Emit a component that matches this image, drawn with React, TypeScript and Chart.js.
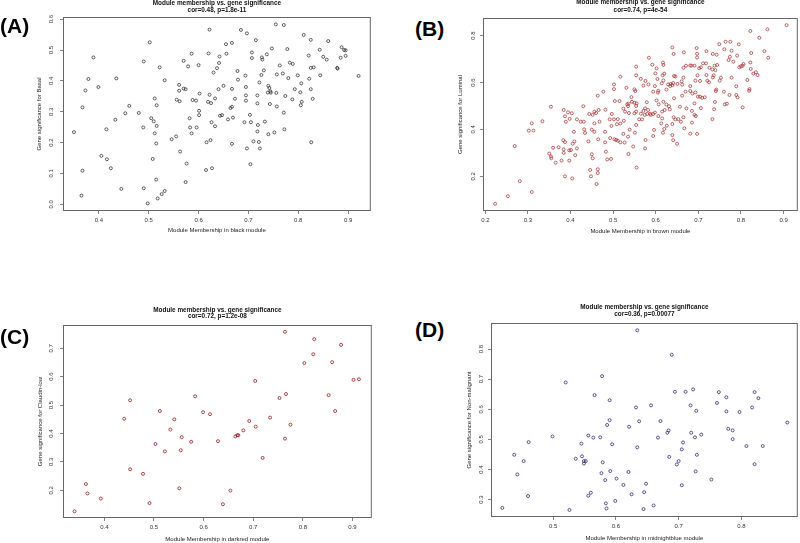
import React, { useEffect, useRef } from "react";
import { Chart, registerables } from "chart.js";
Chart.register(...registerables);

const FONT = "'Liberation Sans', Arial, Helvetica, sans-serif";
const MAIN_TITLE = "Module membership vs. gene significance";

// ---- Panel A (black module / Basal) ----
const aMM = [0.622,0.502,0.389,0.490,0.522,0.532,0.379,0.435,0.373,0.399,0.367,0.461,0.453,0.480,0.433,0.415,0.350,0.489,0.512,0.516,0.505,0.510,0.516,0.512,0.515,0.405,0.416,0.424,0.367,0.445,0.365,0.490,0.498,0.515,0.518,0.526,0.532,0.508,0.546,0.555,0.563,0.576,0.574,0.556,0.562,0.561,0.561,0.570,0.574,0.570,0.579,0.586,0.600,0.588,0.595,0.582,0.583,0.586,0.596,0.601,0.601,0.602,0.616,0.624,0.615,0.627,0.620,0.630,0.622,0.619,0.625,0.626,0.633,0.633,
  0.685,0.697,0.755,0.771,0.715,0.655,0.667,0.656,0.642,0.641,0.637,0.707,0.707,0.727,0.728,0.737,0.747,0.778,0.811,0.825,0.843,0.860,0.887,0.892,0.895,0.885,0.895,0.850,0.857,0.821,0.825,0.831,0.878,0.879,0.921,0.844,0.822,0.825,0.829,0.826,0.783,0.789,0.763,0.757,0.769,0.780,0.799,0.806,0.804,0.807,0.805,0.793,0.788,0.774,0.756,0.757,0.771,0.772,0.752,0.740,0.733,0.743,0.740,0.742,0.744,0.739,0.745,0.731,0.726,0.722,0.718,0.718,0.703,0.705,0.719,0.718,0.710,0.721,0.723,0.697,0.704,0.692,0.694,0.695,0.695,0.695,0.678,0.679,0.667,0.650,0.640,0.673,0.664,0.667,0.659,0.669,0.643,0.647,0.667];
const aGS = [0.566,0.525,0.476,0.463,0.444,0.402,0.406,0.408,0.369,0.380,0.314,0.319,0.295,0.296,0.274,0.243,0.234,0.249,0.343,0.321,0.279,0.269,0.254,0.230,0.197,0.157,0.146,0.117,0.109,0.050,0.028,0.052,0.003,0.080,0.019,0.033,0.043,0.147,0.211,0.220,0.171,0.132,0.072,0.339,0.334,0.387,0.368,0.375,0.373,0.465,0.447,0.488,0.451,0.338,0.336,0.279,0.249,0.230,0.249,0.303,0.289,0.359,0.201,0.208,0.111,0.117,0.489,0.427,0.355,0.332,0.328,0.266,0.253,0.343,
  0.565,0.554,0.583,0.581,0.532,0.519,0.523,0.488,0.479,0.458,0.441,0.492,0.474,0.476,0.469,0.486,0.505,0.503,0.549,0.533,0.501,0.529,0.509,0.500,0.499,0.475,0.481,0.478,0.469,0.482,0.442,0.444,0.442,0.440,0.416,0.418,0.407,0.373,0.342,0.201,0.459,0.455,0.450,0.421,0.424,0.409,0.418,0.392,0.363,0.332,0.321,0.373,0.340,0.351,0.361,0.317,0.297,0.243,0.233,0.227,0.268,0.325,0.384,0.377,0.366,0.362,0.362,0.434,0.419,0.395,0.353,0.327,0.290,0.266,0.257,0.236,0.204,0.202,0.181,0.181,0.130,0.266,0.417,0.380,0.353,0.336,0.432,0.404,0.374,0.384,0.373,0.342,0.312,0.316,0.275,0.281,0.287,0.289,0.196];

// ---- Panel B (brown module / Luminal) ----
const bMM = [0.223,0.253,0.281,0.309,0.269,0.302,0.313,0.309,0.334,0.354,0.350,0.354,0.355,0.359,0.365,0.372,0.379,0.383,0.387,0.384,0.384,0.397,0.387,0.404,0.397,0.401,0.405,0.409,0.415,0.411,0.408,0.384,0.387,0.389,0.394,0.398,0.403,0.415,0.424,0.431,0.430,0.432,0.434,
  0.639,0.642,0.666,0.584,0.592,0.617,0.618,0.554,0.602,0.517,0.502,0.502,0.531,0.550,0.552,0.554,0.565,0.571,0.576,0.583,0.594,0.598,0.599,0.604,0.605,0.606,0.614,0.616,0.620,0.618,0.625,0.629,0.634,0.635,0.639,0.641,0.643,0.646,0.651,0.661,0.662,0.665,0.665,0.671,0.681,0.670,0.662,
  0.464,0.477,0.466,0.456,0.460,0.444,0.452,0.468,0.456,0.456,0.450,0.442,0.465,0.481,0.496,0.504,0.515,0.482,0.497,0.492,0.502,0.511,0.509,0.517,0.524,0.528,0.525,0.533,0.536,0.535,0.537,0.543,0.544,0.550,0.550,0.554,0.554,0.555,0.554,0.565,0.561,0.568,0.575,0.571,0.574,0.579,0.580,0.582,0.587,0.588,0.594,0.598,0.602,0.606,0.607,0.618,0.621,0.615,0.615,0.613,0.625,0.631,0.633,0.639,0.642,0.643,0.646,0.653,0.657,0.665,0.672,0.667,
  0.481,0.493,0.503,0.507,0.511,0.517,0.527,0.535,0.539,0.551,0.547,0.536,0.524,0.576,0.575,0.596,0.594,0.617,0.620,0.626,0.641,0.650,0.639,0.659,
  0.483,0.486,0.495,0.450,0.452,0.446,0.464,0.464,0.448,0.461,0.555,
  0.907,0.822,0.862,0.843,0.764,0.775,0.749,0.795,0.696,0.719,0.761,0.778,0.697,0.734,0.743,0.697,0.824,0.855,0.864,0.791,0.774,0.771,0.782,0.806,0.804,0.796,0.800,0.822,0.684,0.691,0.711,0.718,0.706,0.702,0.726,0.738,0.744,0.733,0.740,0.778,0.823,0.829,0.835,0.839,0.815,0.698,0.719,0.736,0.734,0.753,0.750,0.721,0.725,0.704,0.693,0.681,0.742,0.741,0.760,0.773,0.789,0.789,0.792,0.820,0.819,0.681,0.686,0.693,0.699,0.704,0.709,0.715,0.691,0.706,0.739,0.737,0.762,0.767,0.804,0.685,0.691,0.694,0.685,0.733,0.681,0.697];
const bGS = [0.083,0.115,0.179,0.133,0.329,0.395,0.395,0.426,0.435,0.497,0.297,0.285,0.277,0.322,0.258,0.324,0.267,0.354,0.346,0.315,0.300,0.267,0.200,0.191,0.311,0.312,0.339,0.349,0.319,0.290,0.390,0.483,0.456,0.433,0.473,0.445,0.469,0.443,0.433,0.433,0.499,0.400,0.385,
  0.750,0.722,0.729,0.706,0.676,0.685,0.675,0.668,0.661,0.625,0.592,0.572,0.578,0.571,0.564,0.631,0.616,0.587,0.607,0.592,0.561,0.585,0.639,0.615,0.557,0.565,0.597,0.631,0.638,0.609,0.570,0.592,0.585,0.594,0.589,0.598,0.628,0.626,0.594,0.605,0.591,0.621,0.663,0.672,0.673,0.561,0.544,
  0.544,0.561,0.483,0.476,0.470,0.466,0.462,0.433,0.426,0.390,0.399,0.349,0.358,0.390,0.415,0.521,0.521,0.484,0.466,0.443,0.443,0.444,0.422,0.425,0.489,0.476,0.437,0.507,0.510,0.499,0.470,0.538,0.518,0.514,0.469,0.500,0.476,0.511,0.419,0.467,0.443,0.443,0.490,0.479,0.462,0.516,0.466,0.483,0.467,0.462,0.466,0.472,0.524,0.457,0.507,0.518,0.483,0.476,0.447,0.426,0.506,0.499,0.486,0.423,0.452,0.533,0.443,0.444,0.497,0.452,0.490,0.405,
  0.345,0.363,0.358,0.355,0.352,0.345,0.344,0.369,0.399,0.386,0.327,0.295,0.381,0.355,0.319,0.398,0.372,0.386,0.402,0.416,0.354,0.339,0.376,0.433,
  0.305,0.272,0.274,0.294,0.277,0.227,0.230,0.214,0.200,0.167,0.237,
  0.845,0.820,0.827,0.791,0.774,0.774,0.764,0.763,0.747,0.734,0.742,0.736,0.723,0.722,0.719,0.707,0.726,0.734,0.706,0.715,0.710,0.696,0.689,0.679,0.672,0.665,0.669,0.686,0.672,0.672,0.682,0.682,0.665,0.661,0.663,0.672,0.675,0.656,0.653,0.621,0.658,0.638,0.644,0.632,0.611,0.631,0.632,0.631,0.622,0.621,0.608,0.608,0.601,0.607,0.608,0.585,0.570,0.564,0.561,0.547,0.584,0.547,0.537,0.572,0.565,0.564,0.553,0.558,0.540,0.540,0.535,0.537,0.511,0.491,0.517,0.486,0.507,0.510,0.494,0.479,0.462,0.457,0.429,0.444,0.382,0.381];

// ---- Panel C (darkred module / Claudin-low) ----
const cMM = [0.340,0.363,0.366,0.393,0.440,0.452,0.452,0.478,0.491,0.503,0.512,0.522,0.533,0.541,0.551,0.554,0.556,0.575,0.583,0.599,0.613,0.629,0.639,0.654,0.664,0.668,0.670,0.680,0.692,0.704,0.705,0.719,0.734,0.753,0.764,0.766,0.764,0.775,0.803,0.821,0.823,0.852,0.859,0.865,0.877,0.902,0.913];
const cGS = [0.126,0.222,0.189,0.171,0.452,0.517,0.274,0.258,0.155,0.363,0.479,0.337,0.414,0.450,0.207,0.341,0.387,0.371,0.531,0.475,0.468,0.373,0.151,0.199,0.390,0.394,0.394,0.411,0.444,0.585,0.424,0.314,0.456,0.525,0.758,0.539,0.382,0.431,0.648,0.679,0.732,0.535,0.651,0.479,0.712,0.589,0.591];

// ---- Panel D (midnightblue module / Non-malignant) ----
const dMM = [0.419,0.438,0.443,0.453,0.460,0.461,0.499,0.520,0.526,0.536,0.545,0.546,0.549,0.552,0.549,0.556,0.560,0.556,0.564,0.566,0.575,0.578,0.579,0.577,0.583,0.584,0.585,0.586,0.590,0.590,0.591,0.594,0.599,0.601,0.612,0.620,0.621,0.625,0.632,0.634,0.634,0.637,0.644,0.645,0.648,0.656,0.660,0.667,0.671,0.682,0.684,0.685,0.689,0.694,0.697,0.700,0.705,0.707,0.705,0.711,0.719,0.720,0.723,0.726,0.728,0.729,0.727,0.736,0.752,0.761,0.764,0.776,0.776,0.779,0.786,0.786,0.797,0.808,0.817,0.821,0.821,0.827,0.834,0.873];
const dGS = [0.273,0.449,0.384,0.428,0.312,0.491,0.510,0.689,0.266,0.436,0.486,0.444,0.428,0.428,0.420,0.313,0.323,0.513,0.506,0.647,0.507,0.710,0.424,0.388,0.365,0.288,0.271,0.548,0.564,0.630,0.395,0.484,0.296,0.370,0.349,0.392,0.542,0.318,0.606,0.474,0.862,0.560,0.269,0.325,0.353,0.613,0.281,0.506,0.561,0.522,0.530,0.442,0.781,0.658,0.417,0.428,0.467,0.490,0.348,0.658,0.613,0.522,0.666,0.507,0.595,0.449,0.394,0.516,0.367,0.621,0.657,0.640,0.593,0.535,0.530,0.501,0.591,0.478,0.606,0.418,0.657,0.637,0.478,0.556];

const ML = 34;
const MT = 20;
const MB = 28;

type PanelProps = {
  box: { l: number; t: number; r: number; b: number };
  mr: number;
  xs: number[];
  ys: number[];
  color: string;
  xMin: number; xMax: number; xStep: number;
  yMin: number; yMax: number; yStep: number;
  xLabel: string; yLabel: string; sub: string;
  t1: number; t2: number; yt: number; yl: number; xl: number;
};

function Panel(p: PanelProps) {
  const ref = useRef<HTMLCanvasElement | null>(null);
  const w = p.box.r - p.box.l + ML + p.mr;
  const h = p.box.b - p.box.t + MT + MB;
  useEffect(() => {
    const canvas = ref.current;
    if (!canvas) return;
    const overlay = {
      id: "rOverlay",
      afterDraw(chart: any) {
        const { ctx, chartArea: ca, scales } = chart;
        ctx.save();
        ctx.strokeStyle = "#666";
        ctx.lineWidth = 1;
        ctx.strokeRect(ca.left + 0.5, ca.top + 0.5, ca.right - ca.left - 1, ca.bottom - ca.top - 1);
        const cx = (ca.left + ca.right) / 2;
        ctx.fillStyle = "#111";
        ctx.textAlign = "center";
        ctx.textBaseline = "middle";
        ctx.font = `bold 6.4px ${FONT}`;
        ctx.fillText(MAIN_TITLE, cx, ca.top + p.t1);
        ctx.fillText(p.sub, cx, ca.top + p.t2);
        ctx.font = `6px ${FONT}`;
        ctx.fillStyle = "#333";
        const ys = scales.y;
        ys.ticks.forEach((t: any) => {
          const py = ys.getPixelForValue(t.value);
          ctx.save();
          ctx.translate(ca.left - p.yt, py);
          ctx.rotate(-Math.PI / 2);
          ctx.fillText(Number(t.value).toFixed(1), 0, 0);
          ctx.restore();
        });
        ctx.fillStyle = "#222";
        ctx.save();
        ctx.translate(ca.left - p.yl, (ca.top + ca.bottom) / 2);
        ctx.rotate(-Math.PI / 2);
        ctx.fillText(p.yLabel, 0, 0);
        ctx.restore();
        ctx.fillText(p.xLabel, cx, ca.bottom + p.xl);
        ctx.restore();
      },
    };
    const gridOpts = {
      display: true,
      drawOnChartArea: false,
      drawTicks: true,
      tickLength: 3,
      color: "#666",
      lineWidth: 0.8,
    };
    const chart = new Chart(canvas, {
      type: "scatter",
      data: {
        datasets: [
          {
            data: p.xs.map((x, i) => ({ x, y: p.ys[i] })),
            pointStyle: "circle",
            pointRadius: 1.5,
            pointHoverRadius: 1.5,
            pointBorderWidth: 0.7,
            pointBorderColor: p.color,
            pointBackgroundColor: "rgba(0,0,0,0)",
            borderColor: p.color,
            backgroundColor: "rgba(0,0,0,0)",
          } as any,
        ],
      },
      options: {
        animation: false,
        responsive: false,
        devicePixelRatio: 1,
        events: [],
        layout: { padding: { left: 0, top: MT, right: p.mr, bottom: 0 } },
        plugins: {
          legend: { display: false },
          tooltip: { enabled: false },
          title: { display: false },
        },
        scales: {
          x: {
            type: "linear",
            position: "bottom",
            min: p.xMin,
            max: p.xMax,
            afterFit: (s: any) => { s.height = MB; },
            ticks: {
              stepSize: p.xStep,
              includeBounds: false,
              autoSkip: false,
              maxRotation: 0,
              padding: 2.4,
              color: "#333",
              font: { family: FONT, size: 6 },
              callback: (v: any) => Number(v).toFixed(1),
            },
            grid: gridOpts,
            border: { display: false },
          },
          y: {
            type: "linear",
            position: "left",
            min: p.yMin,
            max: p.yMax,
            afterFit: (s: any) => { s.width = ML; },
            ticks: {
              stepSize: p.yStep,
              includeBounds: false,
              display: false,
            },
            grid: gridOpts,
            border: { display: false },
          },
        },
      } as any,
      plugins: [overlay],
    });
    return () => chart.destroy();
  }, []);
  return (
    <canvas
      ref={ref}
      width={w}
      height={h}
      style={{ position: "absolute", left: p.box.l - ML, top: p.box.t - MT, width: w, height: h }}
    />
  );
}

const labelStyle = (left: number, top: number): React.CSSProperties => ({
  position: "absolute",
  left,
  top,
  fontFamily: FONT,
  fontWeight: "bold",
  fontSize: 21,
  lineHeight: "21px",
  color: "#000",
});

export default function App() {
  return (
    <div style={{ position: "absolute", left: 0, top: 0, width: 800, height: 543, background: "#fff", overflow: "hidden" }}>
      <Panel
        box={{ l: 63, t: 17, r: 371, b: 211 }} mr={2}
        xs={aMM} ys={aGS} color="#222222"
        xMin={0.328} xMax={0.9455} xStep={0.1}
        yMin={-0.0217} yMax={0.607} yStep={0.1}
        xLabel="Module Membership in black module" yLabel="Gene significance for Basal"
        sub="cor=0.48, p=1.8e-11" t1={-14} t2={-6.8} yt={11.5} yl={23.3} xl={19.7}
      />
      <Panel
        box={{ l: 483, t: 18, r: 799, b: 211 }} mr={1}
        xs={bMM} ys={bGS} color="#A52A2A"
        xMin={0.1946} xMax={0.9334} xStep={0.1}
        yMin={0.052} yMax={0.8754} yStep={0.2}
        xLabel="Module Membership in brown module" yLabel="Gene significance for Luminal"
        sub="cor=0.74, p=4e-54" t1={-15.3} t2={-8} yt={9.5} yl={22.3} xl={20}
      />
      <Panel
        box={{ l: 63, t: 325, r: 372, b: 518 }} mr={2}
        xs={cMM} ys={cGS} color="#8B0000"
        xMin={0.3168} xMax={0.9389} xStep={0.1}
        yMin={0.1025} yMax={0.782} yStep={0.1}
        xLabel="Module Membership in darkred module" yLabel="Gene significance for Claudin-low"
        sub="cor=0.72, p=1.2e-08" t1={-15} t2={-8.3} yt={11.5} yl={22.6} xl={21}
      />
      <Panel
        box={{ l: 491, t: 323, r: 798, b: 517 }} mr={2}
        xs={dMM} ys={dGS} color="#191970"
        xMin={0.401} xMax={0.8898} xStep={0.1}
        yMin={0.2426} yMax={0.8863} yStep={0.1}
        xLabel="Module Membership in midnightblue module" yLabel="Gene significance for Non-malignant"
        sub="cor=0.36, p=0.00077" t1={-16} t2={-9} yt={10} yl={21.7} xl={21}
      />
      <div style={labelStyle(0, 15)}>(A)</div>
      <div style={labelStyle(415, 18)}>(B)</div>
      <div style={labelStyle(0, 326)}>(C)</div>
      <div style={labelStyle(415, 319)}>(D)</div>
    </div>
  );
}
